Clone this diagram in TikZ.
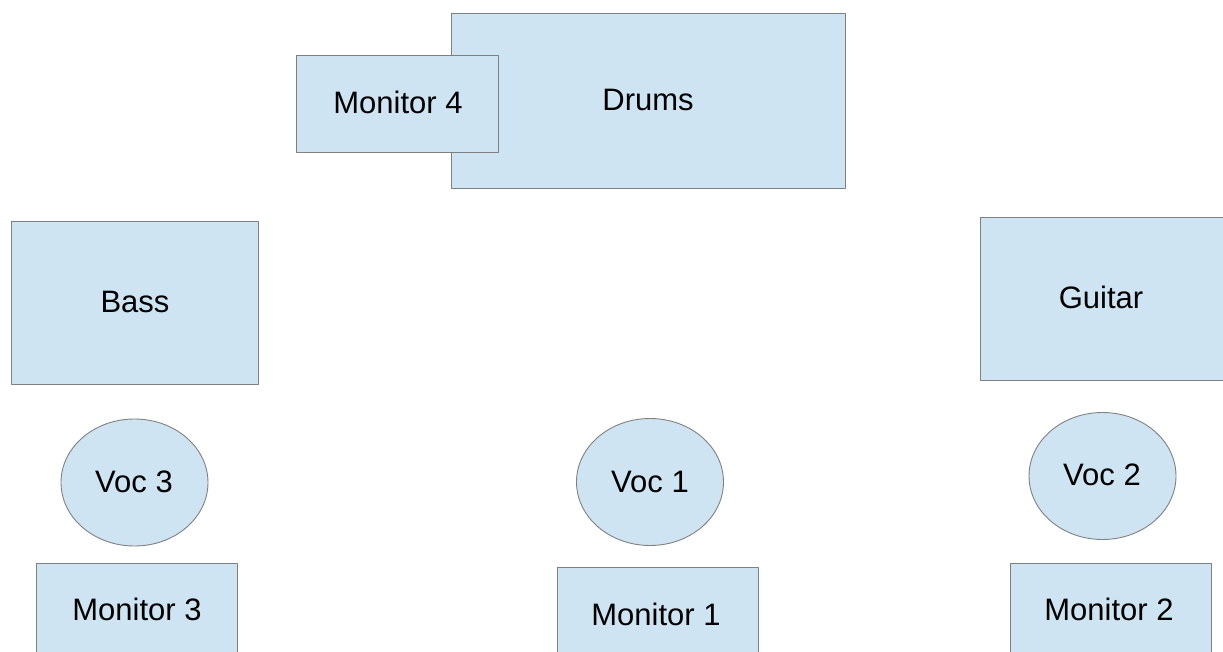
\documentclass[tikz,border=0pt]{standalone}
\usepackage{fontspec}
\setmainfont{Liberation Sans}
\definecolor{stageblue}{RGB}{207,228,242}
\definecolor{edgegray}{RGB}{128,128,128}
\begin{document}
\begin{tikzpicture}[x=1pt,y=-1pt, font=\fontsize{31}{37}\selectfont, line join=round, line cap=round,
	part/.style={draw=edgegray, fill=stageblue, line width=0.9pt}]
				\useasboundingbox (0,0) rectangle (1223,652);
				\clip (0,0) rectangle (1223,652);
				\draw[part] (451,13) rectangle (845,188);
				\draw[part] (296,55) rectangle (498,152);
				\draw[part] (11,221) rectangle (258,384);
				\draw[part] (980,217) rectangle (1228,380);
				\foreach \x/\y in {36/563,557/567,1010/563} \draw[part] (\x,\y) rectangle ++(201,97);
				\foreach \x/\y in {134.5/482.5,650/482,1102.5/476} \draw[part] (\x,\y) ellipse [x radius=73.5, y radius=63.5];
				\path (648,100)node(drums){Drums} (398,102)node(mon4){Monitor 4}
				(135,302)node(bass){Bass} (1101,297)node(guitar){Guitar}
				(134,482)node(voc3){Voc 3} (650,482)node(voc1){Voc 1} (1102,475)node(voc2){Voc 2}
				(137,609)node(mon3){Monitor 3} (656,614)node(mon1){Monitor 1} (1109,609)node(mon2){Monitor 2}
				;
			\end{tikzpicture}
\end{document}
